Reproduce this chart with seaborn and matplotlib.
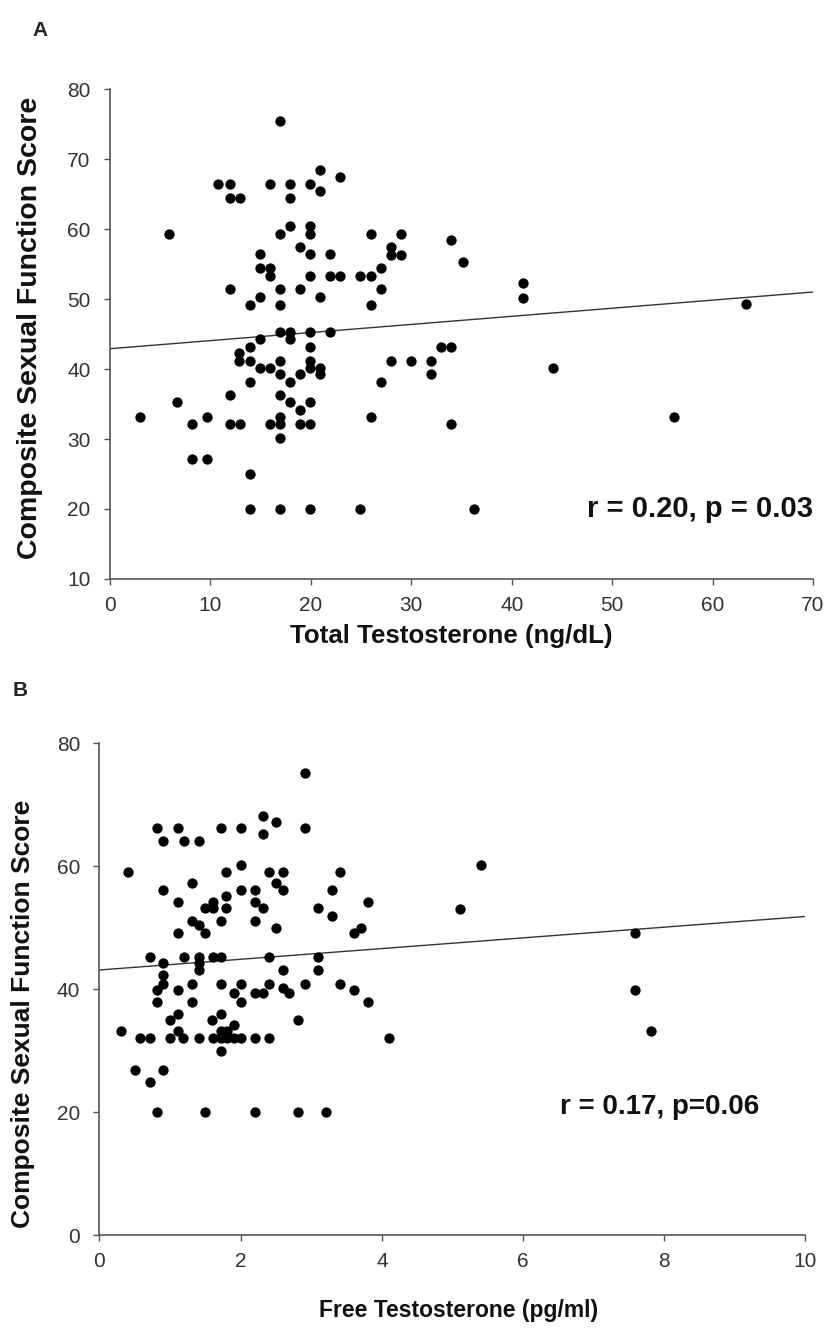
import numpy as np
import pandas as pd
import matplotlib
matplotlib.use("Agg")
import matplotlib.pyplot as plt
import seaborn as sns

# Panel A: total testosterone (ng/dL) vs composite score
total_t = [3, 5.9, 6.7, 8.2, 8.2, 9.7, 9.7,
           10.8, 11.9, 11.9, 12.9, 11.9, 11.9, 11.9, 12.9, 12.8, 12.8,
           13.9, 13.9, 13.9, 13.9, 13.9, 13.9,
           14.9, 14.9, 14.9, 14.9, 14.9,
           15.9, 15.9, 15.9, 15.9, 15.9,
           16.9, 16.9, 16.9, 16.9, 16.9, 16.9, 16.9, 16.9, 16.9, 16.9, 16.9, 16.9,
           17.9, 17.9, 17.9, 17.9, 17.9, 17.9, 17.9,
           18.9, 18.9, 18.9, 18.9, 18.9,
           19.9, 19.9, 19.9, 19.9, 19.9, 19.9, 19.9, 19.9, 19.9, 19.9, 19.9, 19.9,
           20.9, 20.9, 20.9, 20.9, 20.9,
           21.9, 21.9, 21.9,
           22.9, 22.9,
           24.9, 24.9,
           26, 26, 26, 26,
           27, 27, 27,
           28, 28, 28,
           29, 29,
           30, 32, 32, 33, 34, 34, 34, 35.1, 36.2,
           41.1, 41.1, 44.1, 56.2, 63.3]
score_a = [33.2, 59.3, 35.3, 32.1, 27.2, 33.2, 27.2,
           66.4, 66.4, 64.4, 64.4, 51.4, 36.3, 32.1, 32.1, 42.3, 41.2,
           49.2, 43.2, 41.2, 38.2, 25, 20,
           56.4, 54.4, 50.3, 44.3, 40.2,
           66.4, 54.4, 53.3, 40.2, 32.1,
           75.5, 59.3, 51.4, 49.2, 45.3, 41.2, 39.3, 36.3, 33.2, 32.1, 30.1, 20,
           66.4, 64.4, 60.5, 45.3, 44.3, 38.2, 35.3,
           57.4, 51.4, 39.3, 34.2, 32.1,
           66.4, 60.5, 59.3, 56.4, 53.3, 45.3, 43.2, 41.2, 40.2, 35.3, 32.1, 20,
           68.5, 65.4, 50.3, 40.2, 39.3,
           56.4, 53.3, 45.3,
           67.4, 53.3,
           53.3, 20,
           59.3, 53.3, 49.2, 33.2,
           54.4, 51.4, 38.2,
           57.4, 56.3, 41.2,
           59.3, 56.3,
           41.2, 41.2, 39.3, 43.2, 58.4, 43.2, 32.2, 55.3, 20,
           52.3, 50.2, 40.1, 33.2, 49.3]
# trend line as drawn in the figure (ends)
fit_a_x = [0, 70]
fit_a_y = [42.9, 51.0]

# Panel B: free testosterone (pg/ml) vs composite score
free_t = [2.91, 2.31, 2.5, 0.81, 1.11, 1.72, 2.01, 2.91, 2.31,
          0.9, 1.2, 1.41, 0.41, 1.79, 2.01, 2.4, 2.6, 3.4,
          0.9, 1.31, 2.01, 2.2, 2.5, 2.6, 3.29,
          1.11, 1.61, 1.79, 2.2, 2.31, 1.49, 1.61, 1.79, 3.1, 3.29,
          1.31, 1.72, 2.2, 1.41, 1.49, 1.11, 2.5, 3.6, 3.7,
          0.71, 0.9, 1.2, 1.41, 1.41, 1.41, 1.61, 1.72, 2.4, 3.1, 3.1, 2.6,
          0.9, 0.9, 0.81, 1.11, 1.31, 1.72, 2.01, 2.4, 2.91, 3.4, 3.6,
          1.9, 2.2, 2.31, 2.6, 2.69,
          2.01, 0.81, 1.31, 1.0, 1.11, 1.6, 1.72, 2.81, 1.9,
          0.3, 1.11, 1.72, 1.8,
          0.58, 0.71, 1.0, 1.19, 1.41, 1.61, 1.72, 1.8, 1.9, 2.01, 2.2, 2.4,
          1.72, 0.51, 0.9, 0.71,
          0.81, 1.49, 2.2, 2.81, 3.21,
          3.81, 5.4, 5.1, 7.58, 3.81, 4.1, 7.58, 7.81]
score_b = [75.1, 68.2, 67.2, 66.2, 66.2, 66.2, 66.2, 66.2, 65.2,
           64, 64, 64, 59.1, 59.1, 60.2, 59.1, 59.1, 59.1,
           56.1, 57.2, 56.1, 56.1, 57.2, 56.1, 56.1,
           54.2, 54.2, 55.2, 54.2, 53.1, 53.1, 53.1, 53.1, 53.1, 51.9,
           51.1, 51.1, 51.1, 50.4, 49.1, 49.1, 50, 49.1, 50,
           45.2, 44.2, 45.2, 45.2, 44.2, 43.1, 45.2, 45.2, 45.2, 45.2, 43.1, 43.1,
           42.3, 40.9, 39.8, 39.8, 40.9, 40.9, 40.9, 40.9, 40.9, 40.9, 39.8,
           39.3, 39.3, 39.3, 40.1, 39.3,
           37.9, 37.9, 37.9, 35, 35.9, 35, 35.9, 35, 34.1,
           33.1, 33.1, 33.1, 33.1,
           32, 32, 32, 32, 32, 32, 32, 32, 32, 32, 32, 32,
           29.9, 26.8, 26.8, 24.9,
           20, 20, 20, 20, 20,
           54.2, 60.2, 53, 49.1, 37.9, 32.1, 39.8, 33.1]
fit_b_x = [0, 10]
fit_b_y = [43.1, 51.8]

df_a = pd.DataFrame({"x": total_t, "y": score_a})
df_b = pd.DataFrame({"x": free_t, "y": score_b})
line_a = pd.DataFrame({"x": fit_a_x, "y": fit_a_y})
line_b = pd.DataFrame({"x": fit_b_x, "y": fit_b_y})

sns.set_style("ticks")
plt.rcParams["font.family"] = ["Liberation Sans", "DejaVu Sans"]

fig = plt.figure(figsize=(8.31, 13.35), dpi=100)
ax_a = fig.add_axes([0.1324, 0.5663, 0.846, 0.367])
ax_b = fig.add_axes([0.1197, 0.0749, 0.8496, 0.3685])


def draw_panel(ax, df, line, xlim, ylim, xticks, yticks, xlabel, note,
               note_xy, xlab, ylab):
    sns.lineplot(data=line, x="x", y="y", ax=ax, color="#333333", lw=1.0)
    sns.scatterplot(data=df, x="x", y="y", ax=ax, color="black", s=55,
                    edgecolor="black", linewidth=0, zorder=3)
    ax.set_xlim(*xlim)
    ax.set_ylim(*ylim)
    ax.set_xticks(xticks)
    ax.set_yticks(yticks)
    ax.tick_params(labelsize=15, length=4, width=1, color="#555555",
                   labelcolor="#333333")
    ax.tick_params(axis="x", pad=8)
    ax.tick_params(axis="y", pad=10)
    for s in ["left", "bottom"]:
        ax.spines[s].set_color("#555555")
        ax.spines[s].set_linewidth(1.2)
    sns.despine(ax=ax)
    # (size, x, y) of each axis title in axes fraction
    ax.set_xlabel(xlabel, fontsize=xlab[0], fontweight="bold", color="#111111")
    ax.xaxis.set_label_coords(xlab[1], xlab[2])
    ax.set_ylabel("Composite Sexual Function Score", fontsize=ylab[0],
                  fontweight="bold", color="#111111")
    ax.yaxis.set_label_coords(ylab[1], ylab[2])
    ax.text(note_xy[0], note_xy[1], note, fontsize=note_xy[2],
            fontweight="bold", ha="center", va="center", color="#111111")


draw_panel(ax_a, df_a, line_a, (0, 70), (10, 80), range(0, 71, 10),
           range(10, 81, 10), "Total Testosterone (ng/dL)",
           "r = 0.20, p = 0.03", (58.7, 20, 21),
           (18.6, 0.485, -0.092), (20.5, -0.095, 0.512))
draw_panel(ax_b, df_b, line_b, (0, 10), (0, 80), range(0, 11, 2),
           range(0, 81, 20), "Free Testosterone (pg/ml)",
           "r = 0.17, p=0.06", (7.94, 20.8, 20),
           (16.5, 0.508, -0.130), (19, -0.091, 0.45))

fig.text(40 / 831, 1 - 30 / 1335, "A", fontsize=15, fontweight="bold",
         ha="center", va="center")
fig.text(20 / 831, 1 - 690 / 1335, "B", fontsize=15, fontweight="bold",
         ha="center", va="center")

fig.savefig("out.png", dpi=100, facecolor="white")
